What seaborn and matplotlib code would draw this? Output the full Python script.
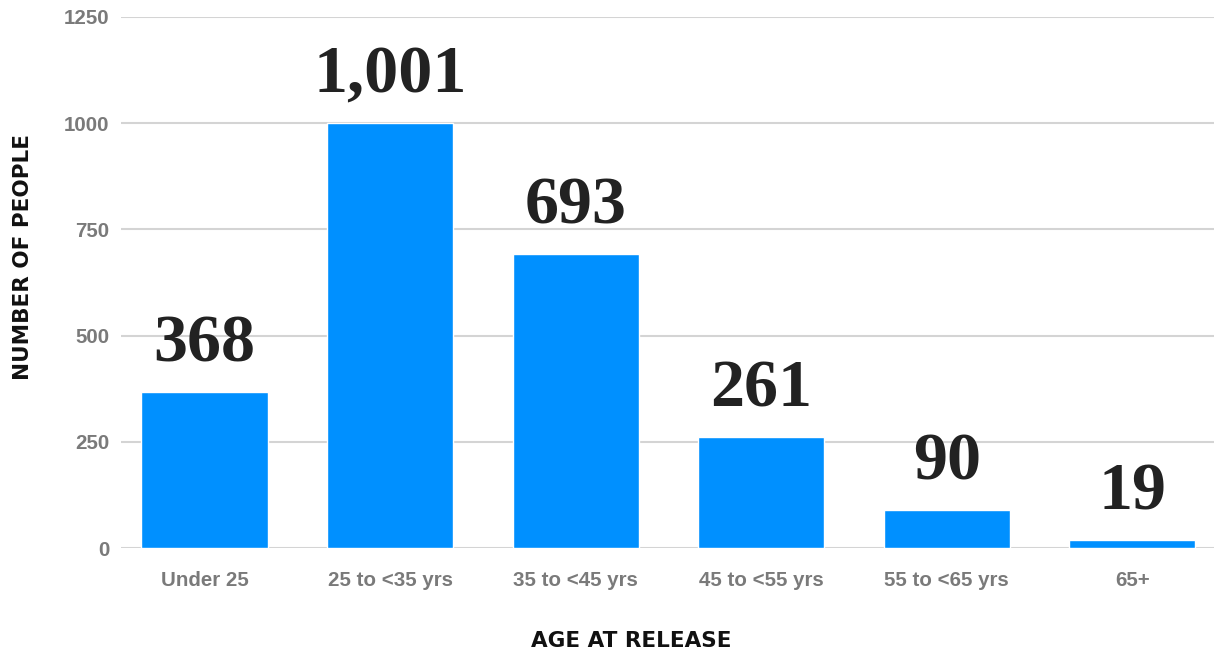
import matplotlib
matplotlib.use("Agg")
import matplotlib.pyplot as plt
import seaborn as sns
import pandas as pd

categories = ["Under 25", "25 to <35 yrs", "35 to <45 yrs", "45 to <55 yrs", "55 to <65 yrs", "65+"]
values = [368, 1001, 693, 261, 90, 19]
y_ticks = [0, 250, 500, 750, 1000, 1250]

sns.set_theme(style="white")
plt.rcParams['font.family'] = ['Liberation Sans', 'DejaVu Sans']

df = pd.DataFrame({"age": categories, "people": values})

fig = plt.figure(figsize=(12.14, 6.5), dpi=100)
ax = fig.add_axes([121/1214, 102/650, 1 - 121/1214, 531/650])

sns.barplot(data=df, x="age", y="people", color="#0090ff", saturation=1,
            width=0.68, ax=ax, zorder=3)

ax.set_ylim(0, 1250)
ax.set_xlim(-0.45, 5.44)
ax.set_yticks(y_ticks)
ax.set_yticklabels([str(t) for t in y_ticks])
ax.yaxis.grid(True, color="#d4d4d4", linewidth=1.5, zorder=0)
ax.xaxis.grid(False)
for s in ax.spines.values():
    s.set_visible(False)
ax.tick_params(axis="both", length=0)
ax.tick_params(axis="y", pad=8.5, labelsize=14.8, labelcolor="#7a7a7a")
ax.tick_params(axis="x", pad=16.5, labelsize=14.8, labelcolor="#7a7a7a")
for lbl in ax.get_xticklabels() + ax.get_yticklabels():
    lbl.set_fontweight("bold")

for i, v in enumerate(values):
    ax.annotate(f"{v:,}", xy=(i, v), xytext=(0, 22), textcoords="offset points",
                ha="center", va="baseline", fontsize=49, fontweight="bold",
                family="Liberation Serif", color="#222222")

ax.set_ylabel("NUMBER OF PEOPLE", fontsize=15.5, fontweight="bold", color="#111111",
              family="DejaVu Sans")
ax.yaxis.set_label_coords(-0.0805, 0.548)
ax.set_xlabel("AGE AT RELEASE", fontsize=15.5, fontweight="bold", color="#111111",
              family="DejaVu Sans", va="center")
ax.xaxis.set_label_coords(0.4666, -0.175)

fig.savefig("out.png", dpi=100)
